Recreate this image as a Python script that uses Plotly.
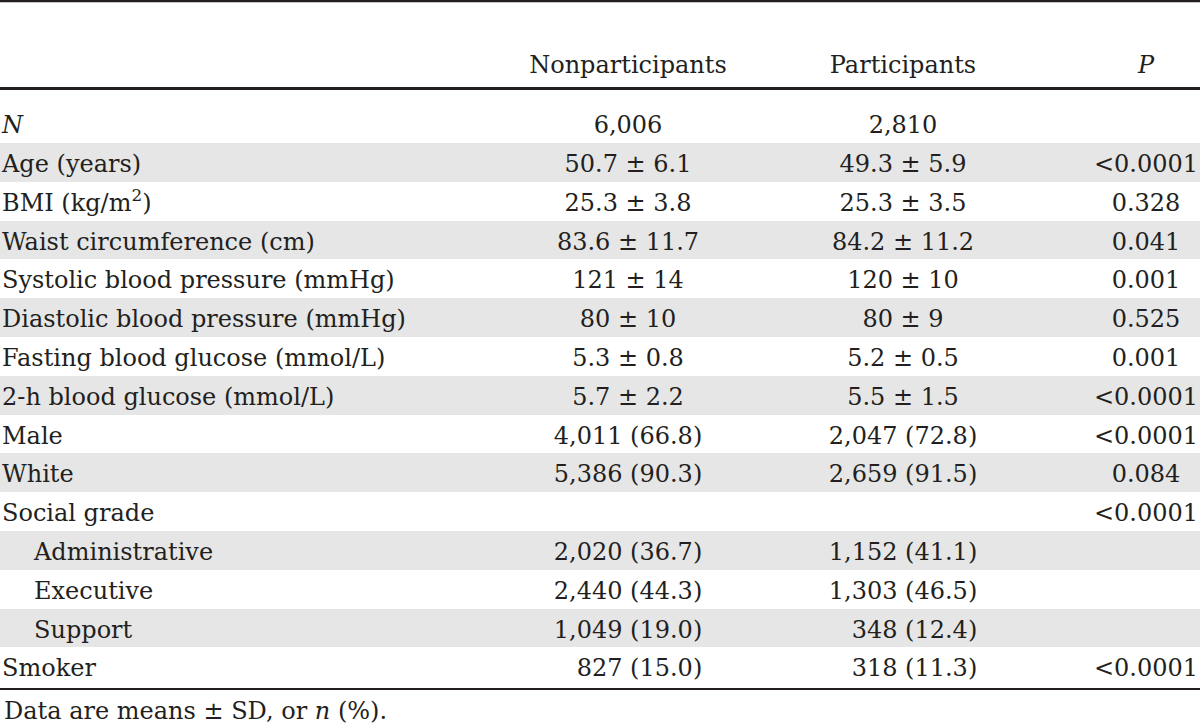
import plotly.graph_objects as go

# ---------------- data ----------------
headers = ["", "Nonparticipants", "Participants", "<i>P</i>"]
labels = ["<i>N</i>", "Age (years)", "BMI (kg/m<sup>2</sup>)", "Waist circumference (cm)",
          "Systolic blood pressure (mmHg)", "Diastolic blood pressure (mmHg)",
          "Fasting blood glucose (mmol/L)", "2-h blood glucose (mmol/L)", "Male", "White",
          "Social grade", "Administrative", "Executive", "Support", "Smoker"]
indent = [0, 0, 0, 0, 0, 0, 0, 0, 0, 0, 0, 1, 1, 1, 0]
nonparticipants = ["6,006", "50.7 ± 6.1", "25.3 ± 3.8", "83.6 ± 11.7", "121 ± 14", "80 ± 10",
                   "5.3 ± 0.8", "5.7 ± 2.2", "4,011 (66.8)", "5,386 (90.3)", "",
                   "2,020 (36.7)", "2,440 (44.3)", "1,049 (19.0)", "827 (15.0)"]
participants = ["2,810", "49.3 ± 5.9", "25.3 ± 3.5", "84.2 ± 11.2", "120 ± 10", "80 ± 9",
                "5.2 ± 0.5", "5.5 ± 1.5", "2,047 (72.8)", "2,659 (91.5)", "",
                "1,152 (41.1)", "1,303 (46.5)", "348 (12.4)", "318 (11.3)"]
p_values = ["", "<0.0001", "0.328", "0.041", "0.001", "0.525", "0.001", "<0.0001",
            "<0.0001", "0.084", "<0.0001", "", "", "", "<0.0001"]
footnote = "Data are means ± SD, or <i>n</i> (%)."

# ---------------- style / layout ----------------
W, H = 1200, 726
FONT = "DejaVu Serif"
FS = 24
INK = "#231f20"
SHADE = "#e6e6e6"
ROW0_PX, PITCH = 123.6, 38.8          # pixel centre of first body row, row pitch
TEXT_DROP = 3.5 / PITCH               # text sits slightly below the band centre
col_x = {"label": 2, "non": 628, "part": 903, "p": 1146}
INDENT_PX = 32


def ypx(px):
    """convert a pixel row position into the y data unit (1 unit = 1 table row)"""
    return (px - ROW0_PX) / PITCH


def align_counts(values):
    """left-pad n (%) entries with figure spaces so they right-align within a column"""
    heads = [v.split(" (")[0] for v in values if "(" in v]
    maxd = max(sum(c.isdigit() for c in h) for h in heads)
    maxc = max(h.count(",") for h in heads)
    out = []
    for v in values:
        if "(" in v:
            h = v.split(" (")[0]
            d = maxd - sum(c.isdigit() for c in h)
            c = maxc - h.count(",")
            v = "\u2007" * d + "\u2008" * c + v
        out.append(v)
    return out


def nonempty(xs, ys, texts):
    keep = [k for k, t in enumerate(texts) if t]
    return [xs[k] for k in keep], [ys[k] for k in keep], [texts[k] for k in keep]


rows = list(range(len(labels)))
text_rows = [r + TEXT_DROP for r in rows]
shaded = [i for i in rows if i % 2 == 1]
y_header = ypx(66.5)

fig = go.Figure()

# shaded row bands
fig.add_trace(go.Bar(y=shaded, x=[W] * len(shaded), base=0, orientation="h", width=1.0,
                     marker=dict(color=SHADE, line=dict(width=0)), hoverinfo="skip",
                     showlegend=False))

textfont = dict(family=FONT, size=FS, color=INK)

# row labels
fig.add_trace(go.Scatter(x=[col_x["label"] + INDENT_PX * k for k in indent], y=text_rows,
                         text=labels, mode="text", textposition="middle right",
                         textfont=textfont, hoverinfo="skip", showlegend=False))
# value columns
for key, vals in (("non", align_counts(nonparticipants)), ("part", align_counts(participants)),
                  ("p", p_values)):
    xs, ys, ts = nonempty([col_x[key]] * len(vals), text_rows, vals)
    fig.add_trace(go.Scatter(x=xs, y=ys, text=ts, mode="text",
                             textposition="middle center", textfont=textfont,
                             hoverinfo="skip", showlegend=False))
# header
fig.add_trace(go.Scatter(x=[col_x["non"], col_x["part"], col_x["p"]], y=[y_header] * 3,
                         text=headers[1:], mode="text", textposition="middle center",
                         textfont=textfont, hoverinfo="skip", showlegend=False))

# rules
rules = [(ypx(1.2), 2.2), (ypx(88.5), 3.2), (ypx(689), 2.2)]
shapes = [dict(type="line", xref="x", yref="y", x0=0, x1=W, y0=y, y1=y,
               line=dict(color=INK, width=w), layer="above") for y, w in rules]

fig.add_annotation(x=col_x["label"], y=ypx(711), xref="x", yref="y", text=footnote,
                   showarrow=False, xanchor="left", yanchor="middle",
                   font=dict(family=FONT, size=FS, color=INK))

fig.update_layout(width=W, height=H, margin=dict(l=0, r=0, t=0, b=0),
                  paper_bgcolor="white", plot_bgcolor="white", shapes=shapes,
                  bargap=0, showlegend=False)
fig.update_xaxes(range=[0, W], visible=False, fixedrange=True)
fig.update_yaxes(range=[ypx(H), ypx(0)], visible=False, fixedrange=True)

fig.write_html("out.html", config={"displayModeBar": False},
               post_script="document.body.style.margin='0';")
